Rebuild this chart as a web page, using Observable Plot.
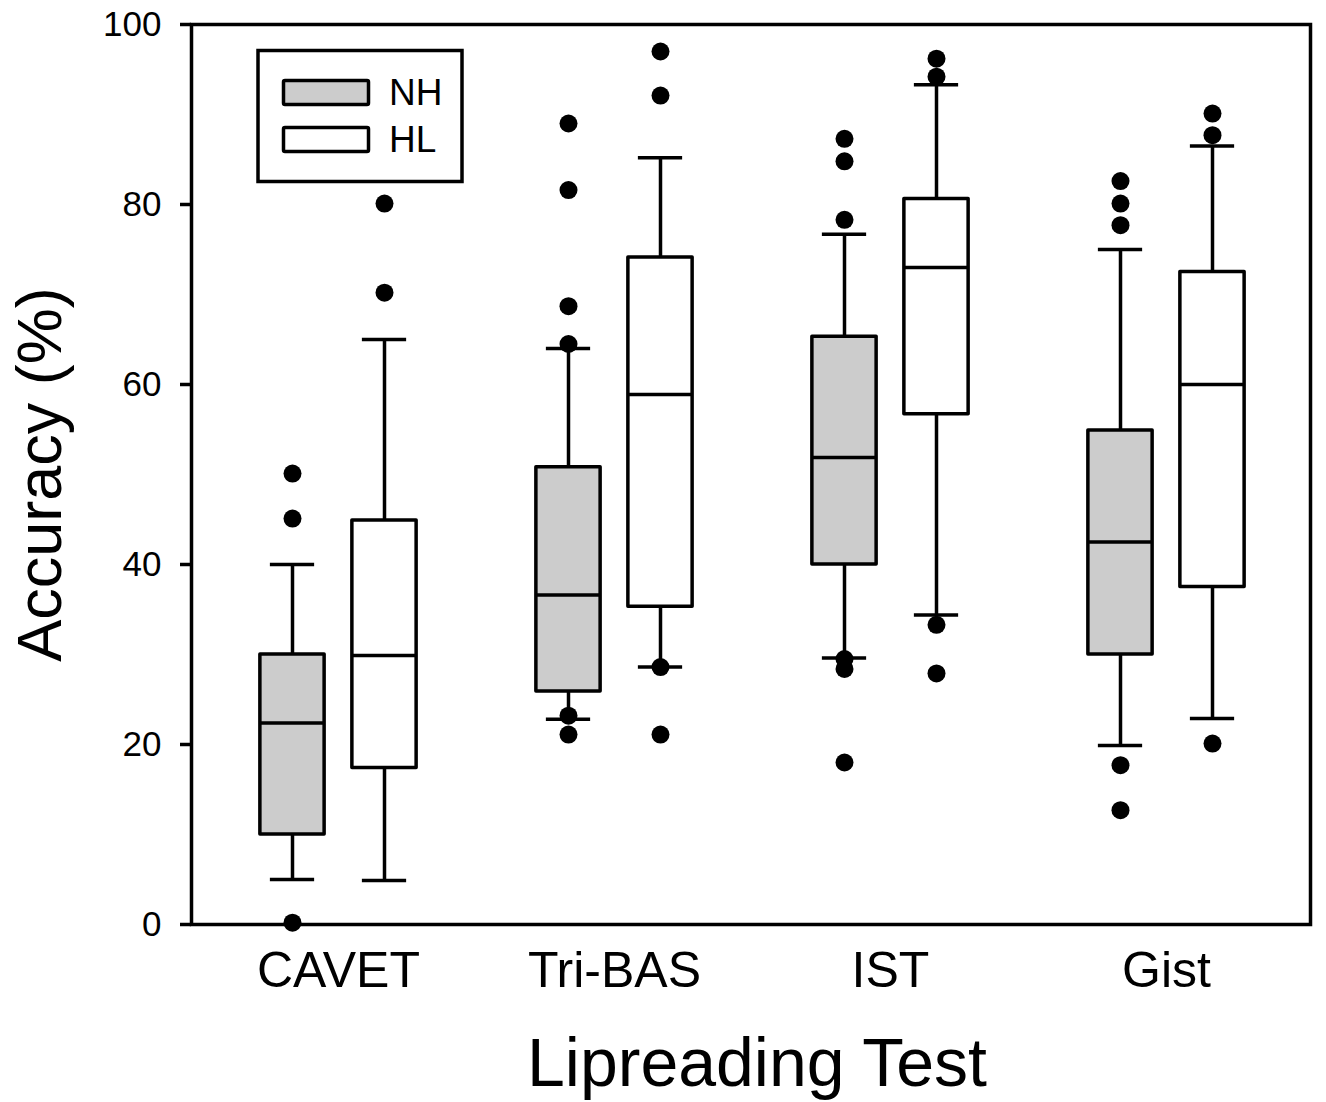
<!DOCTYPE html>
<html>
<head>
<meta charset="utf-8">
<script src="https://cdn.jsdelivr.net/npm/d3@7"></script>
<script src="https://cdn.jsdelivr.net/npm/@observablehq/plot@0.6"></script>
<style>
  html, body { margin: 0; padding: 0; background: #fff; }
  #chart { position: relative; width: 1326px; height: 1102px; }
</style>
</head>
<body>
<div id="chart"></div>
<script>
// ---- Data ----
const tests = ["CAVET", "Tri-BAS", "IST", "Gist"];
const groups = ["NH", "HL"];

// NH (normal hearing)
const nhLow    = [5.0, 22.8, 29.6, 19.9];
const nhQ1     = [10.0, 25.9, 40.0, 30.0];
const nhMedian = [22.4, 36.6, 51.9, 42.5];
const nhQ3     = [30.0, 50.8, 65.3, 54.9];
const nhHigh   = [40.0, 64.0, 76.7, 75.0];
const nhOutliers = [
  [50.1, 45.1, 0.2],
  [89.0, 81.6, 68.7, 64.5, 23.2, 21.1],
  [87.3, 84.8, 78.3, 29.5, 28.4, 18.0],
  [82.6, 80.1, 77.7, 17.7, 12.7]
];

// HL (hearing loss)
const hlLow    = [4.9, 28.6, 34.4, 22.9];
const hlQ1     = [17.4, 35.3, 56.7, 37.5];
const hlMedian = [29.9, 58.9, 73.0, 60.0];
const hlQ3     = [44.9, 74.1, 80.6, 72.5];
const hlHigh   = [65.0, 85.2, 93.3, 86.5];
const hlOutliers = [
  [80.1, 70.2],
  [97.0, 92.1, 28.6, 21.1],
  [96.2, 94.2, 33.3, 27.9],
  [90.1, 87.7, 20.1]
];

const yTicks = [0, 20, 40, 60, 80, 100];
const fills = {NH: "#cccccc", HL: "#ffffff"};

// ---- Build tables ----
function boxRows(group, low, q1, med, q3, high) {
  return tests.map((t, i) => ({test: t, group, low: low[i], q1: q1[i], median: med[i], q3: q3[i], high: high[i]}));
}
function outlierRows(group, outs) {
  return tests.flatMap((t, i) => outs[i].map(v => ({test: t, group, value: v})));
}
const series = {
  NH: {boxes: boxRows("NH", nhLow, nhQ1, nhMedian, nhQ3, nhHigh), outs: outlierRows("NH", nhOutliers), dx: -46},
  HL: {boxes: boxRows("HL", hlLow, hlQ1, hlMedian, hlQ3, hlHigh), outs: outlierRows("HL", hlOutliers), dx: 46}
};

// ---- Layout ----
const W = 1326, H = 1102;
const xRange = [198, 1305];
const bw = (xRange[1] - xRange[0]) / tests.length;
const boxW = 65, capW = 45;
const boxInset = (bw - boxW) / 2;
const capInset = (bw - capW) / 2;
const SW = 3.5;
const FONT = "'Liberation Sans', Arial, Helvetica, sans-serif";

const marks = [];
for (const g of groups) {
  const s = series[g];
  marks.push(
    Plot.ruleX(s.boxes, {x: "test", y1: "low", y2: "q1", dx: s.dx, stroke: "black", strokeWidth: SW}),
    Plot.ruleX(s.boxes, {x: "test", y1: "q3", y2: "high", dx: s.dx, stroke: "black", strokeWidth: SW}),
    Plot.tickY(s.boxes, {x: "test", y: "low", dx: s.dx, insetLeft: capInset, insetRight: capInset, stroke: "black", strokeWidth: SW}),
    Plot.tickY(s.boxes, {x: "test", y: "high", dx: s.dx, insetLeft: capInset, insetRight: capInset, stroke: "black", strokeWidth: SW}),
    Plot.barY(s.boxes, {x: "test", y1: "q1", y2: "q3", dx: s.dx, insetLeft: boxInset, insetRight: boxInset,
      fill: fills[g], stroke: "black", strokeWidth: SW, strokeLinejoin: "round"}),
    Plot.tickY(s.boxes, {x: "test", y: "median", dx: s.dx, insetLeft: boxInset, insetRight: boxInset, stroke: "black", strokeWidth: SW})
  );
}
for (const g of groups) {
  const s = series[g];
  marks.push(Plot.dot(s.outs, {x: "test", y: "value", dx: s.dx, r: 9, fill: "black", stroke: "none"}));
}

const plot = Plot.plot({
  width: W,
  height: H,
  marginLeft: 191,
  marginRight: 16,
  marginTop: 24,
  marginBottom: 178,
  style: {fontFamily: FONT, background: "white", color: "black"},
  x: {type: "band", domain: tests, range: xRange, padding: 0},
  y: {domain: [0, 100]},
  marks: [
    ...marks,
    Plot.frame({stroke: "black", strokeWidth: SW}),
    Plot.axisY({ticks: yTicks, tickSize: 11, tickPadding: 19, fontSize: 35, strokeWidth: SW, label: null, tickFormat: d => String(d)}),
    Plot.axisX({tickSize: 0, tickPadding: 27, fontSize: 50, label: null}),
    Plot.text(["Accuracy (%)"], {frameAnchor: "left", text: d => d, rotate: -90, dx: -151, textAnchor: "middle", lineAnchor: "middle", fontSize: 63, fill: "black"}),
    Plot.text(["Lipreading Test"], {frameAnchor: "bottom", text: d => d, dx: 6, dy: 140, textAnchor: "middle", lineAnchor: "middle", fontSize: 68, fill: "black"})
  ]
});

document.getElementById("chart").appendChild(plot);

// ---- Legend (inside the frame, top-left) ----
const svg = d3.select(plot);
const lg = svg.append("g").attr("font-family", FONT).attr("text-anchor", "start");
lg.append("rect").attr("x", 258).attr("y", 50.5).attr("width", 204).attr("height", 131)
  .attr("fill", "white").attr("stroke", "black").attr("stroke-width", SW);
const legendItems = [
  {g: "NH", y: 80.5, ty: 105},
  {g: "HL", y: 127.5, ty: 152}
];
for (const it of legendItems) {
  lg.append("rect").attr("x", 283.5).attr("y", it.y).attr("width", 85).attr("height", 24).attr("rx", 1.5)
    .attr("fill", fills[it.g]).attr("stroke", "black").attr("stroke-width", SW);
  lg.append("text").attr("x", 389).attr("y", it.ty).attr("font-size", 37).attr("fill", "black")
    .attr("text-anchor", "start").text(it.g);
}
</script>
</body>
</html>
